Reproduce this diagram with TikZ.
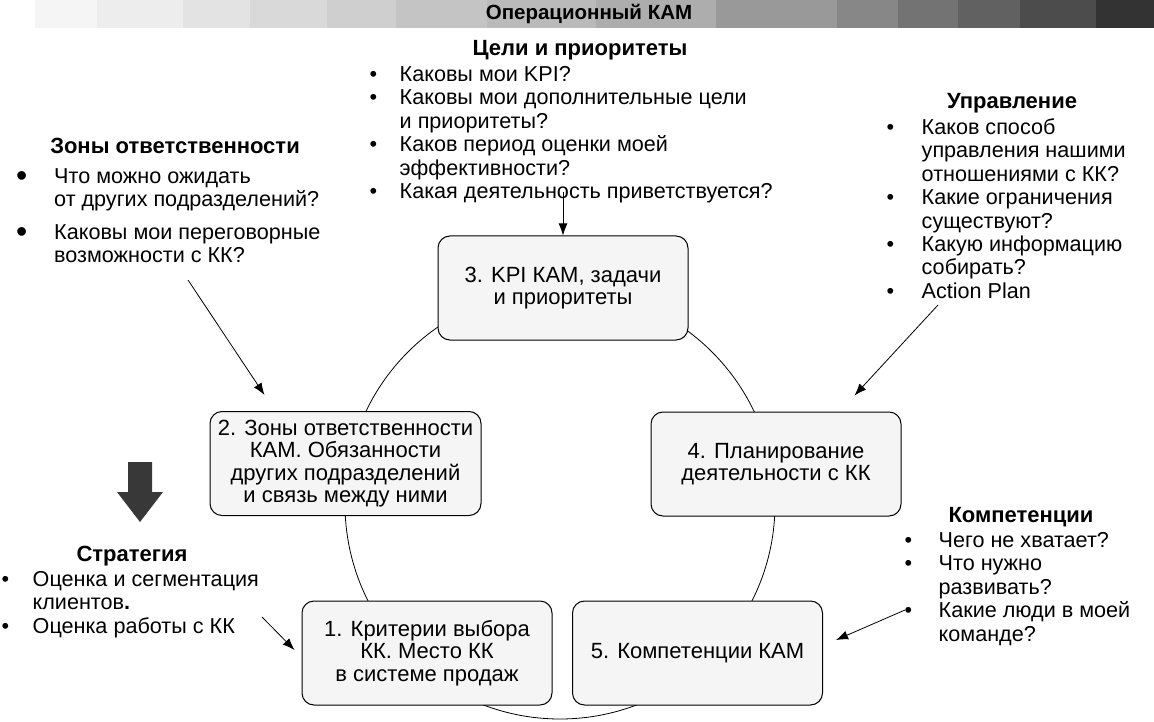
\documentclass[tikz,border=0pt]{standalone}
\usepackage{fontspec}
\setmainfont{Liberation Sans}
\usetikzlibrary{shapes,arrows,arrows.meta,positioning}

\newcommand\bigbul{\raisebox{-3pt}{\fontsize{32}{23}\selectfont\textbullet}}

\tikzset{
	stage/.style={draw,line width=1pt,rounded corners=12pt,fill=black!4,minimum width=250pt,minimum height=104pt,align=center,inner sep=2pt,font=\fontsize{22}{22.4}\selectfont},
	heading/.style={inner sep=0pt,font=\bfseries\fontsize{22}{24}\selectfont},
	qlist/.style={anchor=north west,inner sep=0pt,align=left,font=\fontsize{21.6}{23.4}\selectfont},
	pointer/.style={-{Latex[length=12pt,width=9pt]},line width=.8pt},
}

\begin{document}
\begin{tikzpicture}[x=1pt,y=-1pt]
			\useasboundingbox (0,0) rectangle (1154,722);
			% title bar
			\foreach \xa/\xb/\g in {35/97/4,97/183/7,183/250/11,250/327/15,327/396/19,396/487/23,487/596/27,596/716/32,716/837/40,837/898/47,898/958/55,958/1020/62,1020/1096/70,1096/1154/80}
				\fill[black!\g] (\xa,0) rectangle (\xb,28);
			\node[font=\bfseries\fontsize{20.5}{22}\selectfont,inner sep=0pt] (title) at (589,14) {Операционный КАМ};
			% ring
			\coordinate (ring) at (560,504);
			\draw[line width=.8pt] (ring) circle[radius=215pt];
			% stages
			\node[stage] (box3) at (563,288) {3. KPI КАМ, задачи\\и приоритеты};
			\node[stage,minimum width=271pt] (box2) at (345.5,463.5) {2. Зоны ответственности\\КАМ. Обязанности\\других подразделений\\и связь между ними};
			\node[stage] (box4) at (776,464) {4. Планирование\\деятельности с КК};
			\node[stage] (box1) at (427,653) {1. Критерии выбора\\КК. Место КК\\в системе продаж};
			\node[stage] (box5) at (697.5,653) {5. Компетенции КАМ};
			% questions
			\node[heading] (goalshead) at (580,50) {Цели и приоритеты};
			\node[qlist] (goalslist) at (369.5,65) {\begin{tabular}{@{}p{30pt}@{}l@{}}
				\textbullet & Каковы мои KPI?\\
				\textbullet & Каковы мои дополнительные цели\\
				& и приоритеты?\\
				\textbullet & Каков период оценки моей\\
				& эффективности?\\
				\textbullet & Какая деятельность приветствуется?
			\end{tabular}};
			\node[heading] (zoneshead) at (175,146) {Зоны ответственности};
			\node[qlist] (zoneslist) at (16,167) {\begin{tabular}{@{}p{38pt}@{}l@{}}
				\bigbul & Что можно ожидать\\
				& от других подразделений?\\[9pt]
				\bigbul & Каковы мои переговорные\\
				& возможности с КК?
			\end{tabular}};
			\node[heading] (mgmthead) at (1012,103) {Управление};
			\node[qlist] (mgmtlist) at (886.5,118) {\begin{tabular}{@{}p{35pt}@{}l@{}}
				\textbullet & Каков способ\\
				& управления нашими\\
				& отношениями с КК?\\
				\textbullet & Какие ограничения\\
				& существуют?\\
				\textbullet & Какую информацию\\
				& собирать?\\
				\textbullet & Action Plan
			\end{tabular}};
			\node[heading] (comphead) at (1021,517) {Компетенции};
			\node[qlist] (complist) at (904.5,531) {\begin{tabular}{@{}p{34pt}@{}l@{}}
				\textbullet & Чего не хватает?\\
				\textbullet & Что нужно\\
				& развивать?\\
				\textbullet & Какие люди в моей\\
				& команде?
			\end{tabular}};
			\node[heading] (strathead) at (132,556) {Стратегия};
			\node[qlist] (stratlist) at (1.5,570) {\begin{tabular}{@{}p{31pt}@{}l@{}}
				\textbullet & Оценка и сегментация\\
				& клиентов\textbf{.}\\
				\textbullet & Оценка работы с КК
			\end{tabular}};
			% big arrow
			\fill[black!78] (128,462) -- (152,462) -- (152,492) -- (163,492) -- (140,522) -- (117,492) -- (128,492) -- cycle;
			% pointers
			\coordinate (goalsarr) at (563,192);
			\coordinate (zonesarr) at (188,280);
			\coordinate (mgmtarr) at (938,305);
			\coordinate (comparr) at (905,610);
			\coordinate (stratarr) at (262,617);
			\draw[pointer] (goalsarr) -- (box3.north);
			\draw[pointer] (zonesarr) -- ([shift={(55,-16)}]box2.north west);
			\draw[pointer] (mgmtarr) -- ([shift={(-47,-16)}]box4.north east);
			\draw[pointer] (comparr) -- ([shift={(13,-13)}]box5.east);
			\draw[pointer] (stratarr) -- ([shift={(-7,-3)}]box1.west);
		\end{tikzpicture}
\end{document}
